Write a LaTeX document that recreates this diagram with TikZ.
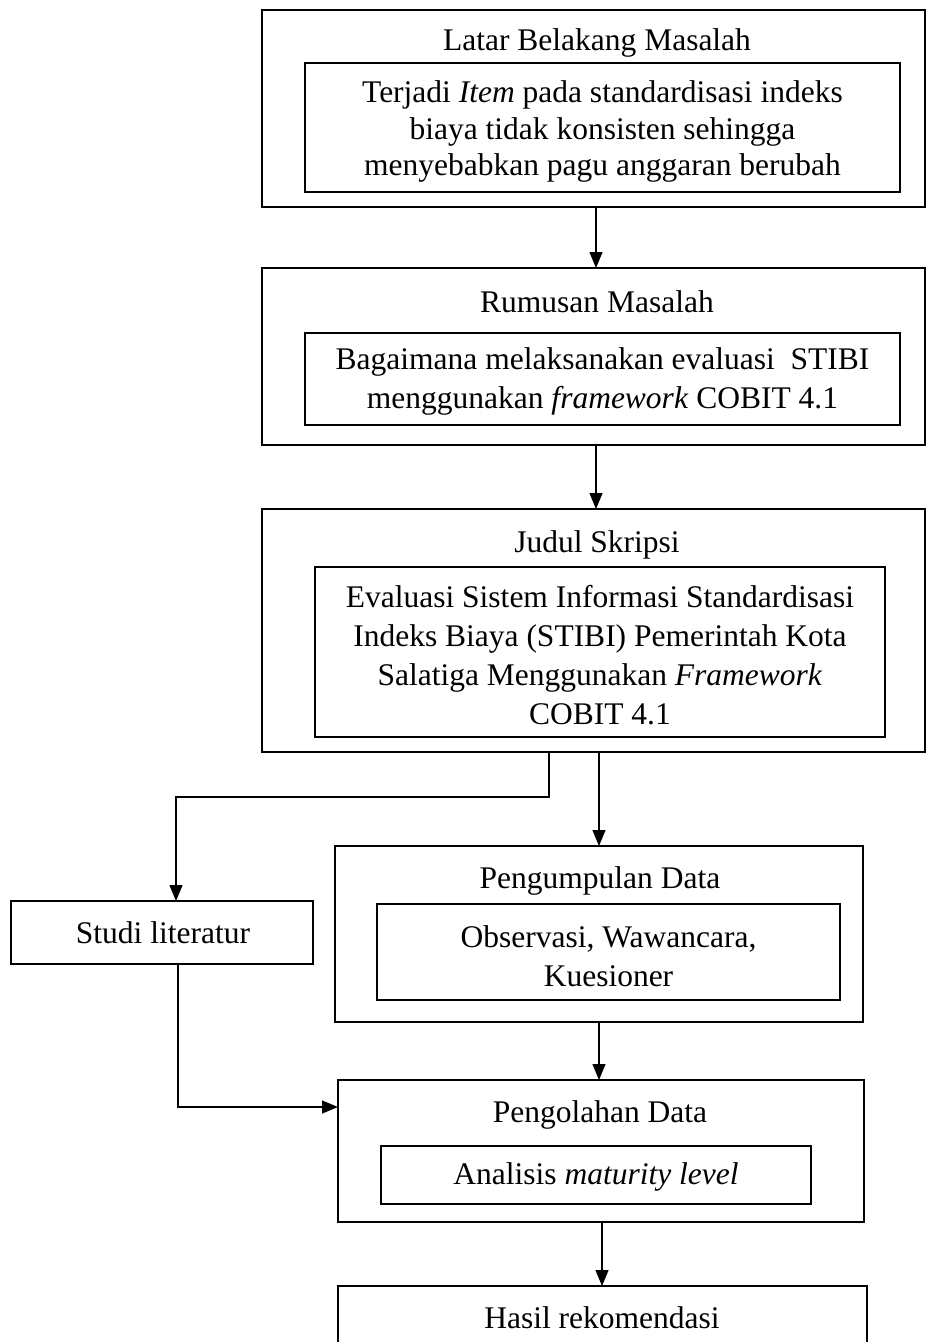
\documentclass[tikz,border=0pt]{standalone}
\usepackage{fontspec}
\setmainfont{Liberation Serif}
\usetikzlibrary{arrows.meta,calc}
\begin{document}
\begin{tikzpicture}[x=1pt,y=-1pt,
  box/.style={draw, line width=1.6pt, rectangle, inner sep=0pt, outer sep=0pt},
  lbl/.style={inner sep=0pt, outer sep=0pt, align=center, font=\fontsize{31.5}{39}\selectfont},
  conn/.style={line width=1.2pt},
  arr/.style={conn, -{Triangle[length=16pt,width=13pt]}}]
\useasboundingbox (0,0) rectangle (928,1342);
\fill[white] (0,0) rectangle (928,1342);
\clip (0,0) rectangle (928,1342);

% Latar Belakang
\node[box, minimum width=663pt, minimum height=197pt] (B1) at (593.5,108.5) {};
\node[lbl, anchor=base] (T1) at (597,50) {Latar Belakang Masalah};
\node[box, minimum width=595pt, minimum height=129pt] (I1) at (602.5,127.5) {};
\node[lbl, font=\fontsize{31.5}{36.5}\selectfont] (L1) at ($(I1.center)+(0,4)$) {Terjadi \textit{Item} pada standardisasi indeks\\ biaya tidak konsisten sehingga\\ menyebabkan pagu anggaran berubah};

% Rumusan
\node[box, minimum width=663pt, minimum height=177pt] (B2) at (593.5,356.5) {};
\node[lbl, anchor=base] (T2) at (597,312) {Rumusan Masalah};
\node[box, minimum width=595pt, minimum height=92pt] (I2) at (602.5,379) {};
\node[lbl] (L2) at ($(I2.center)+(0,2)$) {Bagaimana melaksanakan evaluasi\ \ STIBI\\ menggunakan \textit{framework} COBIT 4.1};

% Judul
\node[box, minimum width=663pt, minimum height=243pt] (B3) at (593.5,630.5) {};
\node[lbl, anchor=base] (T3) at (597,552) {Judul Skripsi};
\node[box, minimum width=570pt, minimum height=170pt] (I3) at (600,652) {};
\node[lbl] (L3) at ($(I3.center)+(0,3)$) {Evaluasi Sistem Informasi Standardisasi\\ Indeks Biaya (STIBI) Pemerintah Kota\\ Salatiga Menggunakan \textit{Framework}\\ COBIT 4.1};

% Studi literatur
\node[box, minimum width=302pt, minimum height=63pt] (S) at (162,932.5) {};
\node[lbl, anchor=base] (TS) at (163,943) {Studi literatur};

% Pengumpulan
\node[box, minimum width=528pt, minimum height=176pt] (P1) at (599,934) {};
\node[lbl, anchor=base] (TP1) at (600,888) {Pengumpulan Data};
\node[box, minimum width=463pt, minimum height=96pt] (IP1) at (608.5,952) {};
\node[lbl] (LP1) at ($(IP1.center)+(0,4)$) {Observasi, Wawancara,\\ Kuesioner};

% Pengolahan
\node[box, minimum width=526pt, minimum height=142pt] (P2) at (601,1151) {};
\node[lbl, anchor=base] (TP2) at (600,1122) {Pengolahan Data};
\node[box, minimum width=430pt, minimum height=58pt] (IP2) at (596,1175) {};
\node[lbl] (LP2) at ($(IP2.center)+(0,2)$) {Analisis \textit{maturity level}};

% Hasil
\node[box, minimum width=529pt, minimum height=114pt] (H) at (602.5,1343) {};
\node[lbl, anchor=base] (TH) at (602,1328) {Hasil rekomendasi};

% connectors
\coordinate (xa) at (596,0);
\coordinate (xb) at (599,0);
\coordinate (xc) at (549,0);
\coordinate (yc) at (0,797);
\coordinate (xd) at (176,0);
\coordinate (xe) at (178,0);
\coordinate (ye) at (0,1107);
\coordinate (xf) at (602,0);
\draw[arr] (B1.south -| xa) -- (B2.north -| xa);
\draw[arr] (B2.south -| xa) -- (B3.north -| xa);
\draw[arr] (B3.south -| xb) -- (P1.north -| xb);
\draw[arr] (B3.south -| xc) -- (xc |- yc) -| (S.north -| xd);
\draw[arr] (S.south -| xe) |- (P2.west |- ye);
\draw[arr] (P1.south -| xb) -- (P2.north -| xb);
\draw[arr] (P2.south -| xf) -- (H.north -| xf);
\end{tikzpicture}
\end{document}
